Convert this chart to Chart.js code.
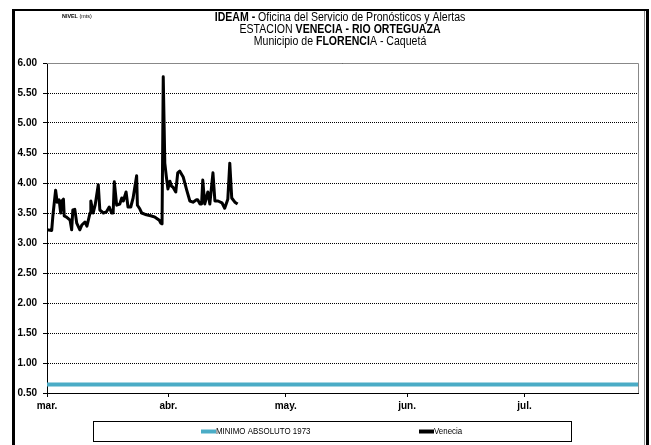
<!DOCTYPE html>
<html><head><meta charset="utf-8">
<script src="https://cdn.jsdelivr.net/npm/chart.js@4.4.0/dist/chart.umd.min.js"></script>
<style>html,body{margin:0;padding:0;background:#fff;}#wrap{width:651px;height:445px;}</style>
</head><body><div id="wrap"><canvas id="c" width="651" height="445"></canvas></div>
<script>
// ---- data ----
const monthTicks = [0, 31, 61, 92, 122];          // days since 1 March
const monthLabels = ['mar.', 'abr.', 'may.', 'jun.', 'jul.'];
const xMaxDay = 151;
const yMin = 0.5, yMax = 6.0, yStep = 0.5;

const minimoLabel = 'MINIMO ABSOLUTO 1973';
const minimoDays = [0, 151];
const minimoNivel = [0.64, 0.64];

const venLabel = 'Venecia';
const venDay = [0, 1.2, 1.5, 2.2, 2.6, 3.1, 3.5, 3.8, 4.2, 4.4, 5.0, 5.9, 6.3, 6.6, 7.1, 7.6, 8.4, 8.9, 9.7, 10.2,
  11.0, 11.2, 11.8, 12.3, 13.1, 13.5, 14.4, 15.2, 15.9, 16.5, 16.9, 17.2, 17.8, 18.6, 19.1, 19.5, 20.2, 20.7, 21.4, 22.0,
  22.9, 23.1, 23.7, 24.2, 25.4, 26.7, 27.6, 28.7, 29.1, 29.4, 29.7, 30.1, 30.5, 30.9, 31.4, 31.8, 32.2, 32.9, 33.4, 33.9,
  34.8, 35.7, 36.5, 37.3, 38.2, 38.5, 39.1, 39.5, 39.8, 40.3, 41.1, 41.6, 42.4, 42.9, 43.7, 44.7, 45.4, 46.2, 46.7, 47.2,
  48.0, 48.7];
const venNivel = [3.22, 3.21, 3.45, 3.88, 3.68, 3.72, 3.50, 3.70, 3.73, 3.45, 3.43, 3.38, 3.22, 3.55, 3.56, 3.33, 3.22, 3.30, 3.35, 3.28,
  3.50, 3.70, 3.50, 3.63, 3.97, 3.55, 3.50, 3.52, 3.60, 3.50, 3.50, 4.02, 3.63, 3.65, 3.75, 3.70, 3.85, 3.60, 3.60, 3.75,
  4.12, 3.63, 3.57, 3.50, 3.47, 3.45, 3.43, 3.38, 3.33, 3.32, 5.77, 4.33, 4.10, 3.90, 4.03, 3.95, 3.93, 3.85, 4.17, 4.20,
  4.10, 3.88, 3.70, 3.68, 3.72, 3.72, 3.65, 3.65, 4.05, 3.65, 3.85, 3.65, 4.17, 3.70, 3.70, 3.67, 3.58, 3.73, 4.33, 3.75,
  3.68, 3.65];

const titleLines = [
  [['IDEAM - ', true], ['Oficina del Servicio de Pronósticos y Alertas', false]],
  [['ESTACION ', false], ['VENECIA - RIO ORTEGUAZA', true]],
  [['Municipio de ', false], ['FLORENCI', true], ['A - Caquetá', false]]
];
const yAxisTitle = [['NIVEL ', true], ['(mts)', false]];

// ---- rendering ----
const SANS = '"Liberation Sans", Arial, sans-serif';

const framePlugin = {
  id: 'frame',
  beforeDraw(chart) {
    const ctx = chart.ctx;
    ctx.save();
    ctx.fillStyle = '#fff';
    ctx.fillRect(0, 0, chart.width, chart.height);
    ctx.fillStyle = '#000';
    ctx.fillRect(12, 9, 637, 2);     // top
    ctx.fillRect(12, 9, 3, 436);     // left
    ctx.fillRect(646, 9, 3, 436);    // right (shadow)
    ctx.fillStyle = '#888';
    ctx.fillRect(644, 11, 1, 434);
    ctx.restore();
  },
  afterDatasetsDraw(chart) {
    const {ctx, chartArea: a} = chart;
    ctx.save();
    ctx.strokeStyle = '#888';
    ctx.lineWidth = 1;
    ctx.beginPath();
    ctx.moveTo(a.left, a.top + 0.5);
    ctx.lineTo(a.right + 0.5, a.top + 0.5);
    ctx.lineTo(a.right + 0.5, a.bottom);
    ctx.stroke();
    ctx.restore();
  }
};

// draws mixed bold/regular text, horizontally condensed by sx (narrow-font look)
function drawRich(ctx, segs, x0, y, size, sx, align) {
  let total = 0;
  const widths = segs.map(([t, b]) => {
    ctx.font = (b ? 'bold ' : '') + size + 'px ' + SANS;
    const w = ctx.measureText(t).width; total += w; return w;
  });
  ctx.save();
  const start = align === 'left' ? x0 : x0 - total * sx / 2;
  ctx.translate(start, y);
  ctx.scale(sx, 1);
  let x = 0;
  segs.forEach(([t, b], i) => {
    ctx.font = (b ? 'bold ' : '') + size + 'px ' + SANS;
    ctx.fillText(t, x, 0);
    x += widths[i];
  });
  ctx.restore();
}

const titlePlugin = {
  id: 'richTitle',
  afterDraw(chart) {
    const ctx = chart.ctx;
    ctx.save();
    ctx.fillStyle = '#000';
    ctx.textBaseline = 'middle';
    ctx.textAlign = 'left';
    const ys = [17.5, 29.5, 41.5];
    titleLines.forEach((segs, i) => drawRich(ctx, segs, 340, ys[i], 12, 0.88, 'center'));
    drawRich(ctx, yAxisTitle, 62, 16, 6, 0.9, 'left');
    ctx.restore();
  }
};

const legendPlugin = {
  id: 'boxLegend',
  afterDraw(chart) {
    const ctx = chart.ctx;
    ctx.save();
    ctx.strokeStyle = '#000';
    ctx.lineWidth = 1;
    ctx.strokeRect(93.5, 421.5, 478, 20);
    const xs = [201, 419];
    const cy = 431.5;
    ctx.textBaseline = 'middle';
    chart.data.datasets.forEach((ds, i) => {
      ctx.strokeStyle = ds.borderColor;
      ctx.lineWidth = 4;
      ctx.beginPath();
      ctx.moveTo(xs[i], cy);
      ctx.lineTo(xs[i] + 15, cy);
      ctx.stroke();
      ctx.fillStyle = '#000';
      drawRich(ctx, [[ds.label, false]], xs[i] + 15, cy, 9, 0.88, 'left');
    });
    ctx.restore();
  }
};

const toPts = (xs, ys) => xs.map((x, i) => ({x, y: ys[i]}));

new Chart(document.getElementById('c'), {
  type: 'line',
  data: {
    datasets: [
      {label: minimoLabel, data: toPts(minimoDays, minimoNivel), borderColor: '#4BACC6', borderWidth: 4,
       pointRadius: 0, order: 2},
      {label: venLabel, data: toPts(venDay, venNivel), borderColor: '#000', borderWidth: 3,
       pointRadius: 0, tension: 0, order: 1, borderJoinStyle: 'round'}
    ]
  },
  options: {
    responsive: false,
    animation: false,
    devicePixelRatio: 1,
    layout: {padding: {left: 0, top: 63, right: 13, bottom: 0}},
    plugins: {legend: {display: false}, tooltip: {enabled: false}},
    scales: {
      x: {
        type: 'linear', min: 0, max: xMaxDay,
        afterBuildTicks(scale) { scale.ticks = monthTicks.map(v => ({value: v})); },
        afterFit(scale) { scale.height = 52; },
        ticks: {
          autoSkip: false, maxRotation: 0, padding: 3, color: '#000',
          font: {family: SANS, size: 10, weight: 'bold'},
          callback(v) { const i = monthTicks.indexOf(v); return i >= 0 ? monthLabels[i] : ''; }
        },
        grid: {drawOnChartArea: false, drawTicks: true, tickLength: 4, color: '#000', tickColor: '#000'},
        border: {display: true, color: '#000', width: 1}
      },
      y: {
        min: yMin, max: yMax,
        afterFit(scale) { scale.width = 47; },
        ticks: {
          stepSize: yStep, padding: 6, color: '#000',
          font: {family: SANS, size: 10, weight: 'bold'},
          callback(v) { return Number(v).toFixed(2); }
        },
        grid: {color: '#000', lineWidth: 1, tickLength: 4, tickColor: '#000', tickBorderDash: []},
        border: {display: true, color: '#000', width: 1, dash: [1, 1]}
      }
    }
  },
  plugins: [framePlugin, titlePlugin, legendPlugin]
});
</script>
</body></html>
